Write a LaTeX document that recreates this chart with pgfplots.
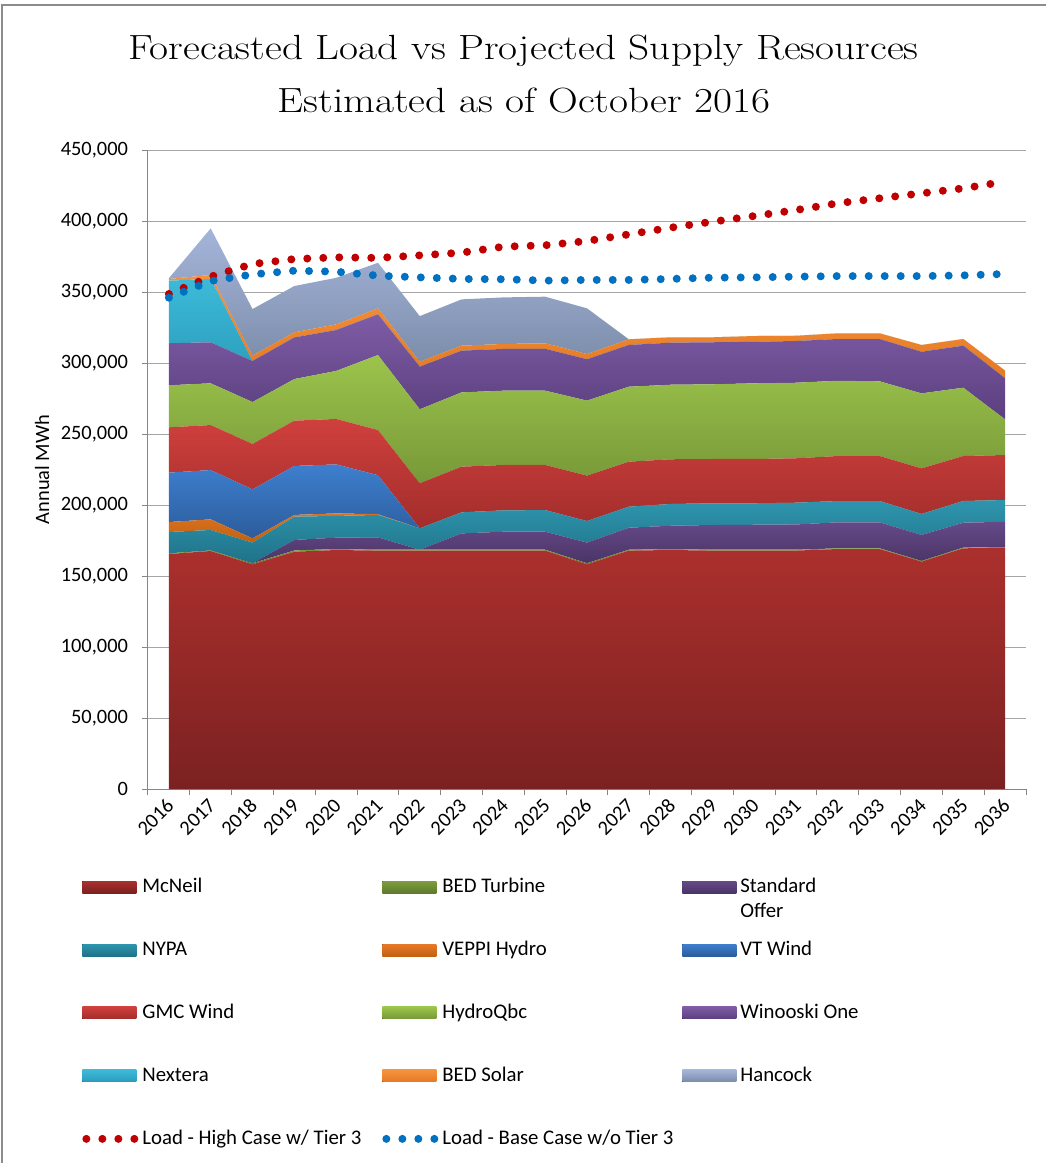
\documentclass[border=0pt]{standalone}
\usepackage{pgfplots}
\pgfplotsset{compat=1.18}
\usepackage{pgfplotstable}
\usepackage{graphicx}
\usepackage{fontspec}
\newfontfamily\carlito{Carlito}

\definecolor{mcTop}{HTML}{AB302D}\definecolor{mcBot}{HTML}{7B2121}
\definecolor{btTop}{HTML}{7E9E3E}\definecolor{btBot}{HTML}{5F7A2C}
\definecolor{soTop}{HTML}{654A88}\definecolor{soBot}{HTML}{4A3466}
\definecolor{nyTop}{HTML}{2E95AE}\definecolor{nyBot}{HTML}{1F7389}
\definecolor{veTop}{HTML}{E8792A}\definecolor{veBot}{HTML}{C0620F}
\definecolor{vtTop}{HTML}{3E7FCE}\definecolor{vtBot}{HTML}{2C5C9C}
\definecolor{gmTop}{HTML}{CF403D}\definecolor{gmBot}{HTML}{A22D2B}
\definecolor{hqTop}{HTML}{9CC44C}\definecolor{hqBot}{HTML}{779838}
\definecolor{wiTop}{HTML}{7F5CA6}\definecolor{wiBot}{HTML}{5A3F7E}
\definecolor{nxTop}{HTML}{3DBAD9}\definecolor{nxBot}{HTML}{2A9BBA}
\definecolor{bsTop}{HTML}{F6923E}\definecolor{bsBot}{HTML}{E47A22}
\definecolor{hcTop}{HTML}{A4B5DA}\definecolor{hcBot}{HTML}{7A8BA8}
\definecolor{lineRed}{HTML}{C00000}
\definecolor{lineBlue}{HTML}{0070C0}
\definecolor{axisgray}{HTML}{868686}
\definecolor{gridgray}{HTML}{A6A6A6}
\definecolor{framegray}{HTML}{8C8C8C}

\pgfplotstableread{
x M T S N V VT G H W Nx BS Hc High Base
0 165500 500 0 15000 7000 34800 31900 29600 29600 44100 1200 500 348600 346000
1 167600 400 0 14400 7500 34700 31700 29400 28900 44600 2800 32800 360800 357700
2 158200 800 0 14500 3000 34500 32000 29500 28900 0 3800 32800 369700 362400
3 167100 900 7400 16400 1200 34500 31900 29300 29300 0 3600 32600 373200 365000
4 168300 700 8000 15300 1800 34500 32000 33800 28800 0 4000 32800 374400 364300
5 167900 600 8700 15800 500 27500 31800 52800 28700 0 4200 32100 374000 361500
6 167900 600 0 15100 0 0 31700 52100 30000 0 3500 32100 375800 360300
7 167900 600 11500 14800 0 0 32200 52300 29400 0 3500 32600 377700 359200
8 167900 600 12700 15000 0 0 32000 52300 29400 0 3500 32800 381900 359000
9 167900 600 12700 15200 0 0 31800 52300 29500 0 3900 32800 382900 358000
10 158200 800 14500 15200 0 0 32000 52800 29100 0 3700 32200 385900 358500
11 167900 600 15500 14800 0 0 31700 52800 29400 0 4000 0 390600 358500
12 168300 700 16400 15300 0 0 31500 52500 29600 0 3800 0 395300 359200
13 167900 600 17400 15300 0 0 31200 52600 29600 0 3500 0 399500 360100
14 167900 600 17600 15100 0 0 31200 53300 29200 0 4100 0 403500 360300
15 167900 600 17800 15300 0 0 31300 53200 29400 0 3700 0 407700 360800
16 169000 500 18300 15000 0 0 31700 53000 29400 0 4000 0 412500 361200
17 169000 500 18300 15000 0 0 31700 52600 29800 0 4000 0 416000 361200
18 160100 500 18300 14800 0 0 32100 52800 29300 0 4800 0 419500 361200
19 169500 500 17500 15300 0 0 31700 48100 29600 0 4700 0 423000 361700
20 169900 500 17800 15300 0 0 31700 25100 28900 0 5400 0 427700 362700
}\datatable

\newcommand{\legbox}[1]{\makebox[110pt][l]{#1}}
\newcommand{\tfont}{\carlito\fontsize{10.2}{12}\selectfont}
\newcommand{\rl}[1]{\rotatebox{45}{#1}}

\pgfplotsset{
  areaplot/.style={draw=none,
    legend image code/.code={\fill[##1] (0pt,-3pt) rectangle (27pt,3pt);}},
  highLoad/.style={color=lineRed, line width=4pt, line cap=round, dash pattern=on 0pt off 8pt, mark=none},
  baseLoad/.style={color=lineBlue, line width=4pt, line cap=round, dash pattern=on 0pt off 8pt, mark=none},
  dotimg/.style={legend image code/.code={\draw[##1] (2pt,0pt) -- (26pt,0pt);}},
  common/.style={
    at={(74pt,187pt)}, anchor=south west, scale only axis,
    width=439pt, height=319.5pt,
    xmin=-0.5, xmax=20.5, ymin=0, ymax=450000,
  }
}

\begin{document}
\begin{tikzpicture}
\useasboundingbox (0,0) rectangle (523pt,581.5pt);
\draw[color=framegray, line width=1pt] (1pt,0pt) -- (1pt,578.75pt) -- (523pt,578.75pt);
\node[anchor=base, inner sep=0pt] at (261.75pt,551.5pt)
  {\fontsize{17.5}{21}\selectfont\scalebox{1.18}[1]{Forecasted Load vs Projected Supply Resources}};
\node[anchor=base, inner sep=0pt] at (262pt,525pt)
  {\fontsize{17.5}{21}\selectfont\scalebox{1.18}[1]{Estimated as of October 2016}};

\begin{axis}[common,
  stack plots=y,
  axis x line*=bottom, axis y line*=left,
  axis line style={-, draw=axisgray, line width=0.5pt},
  tick align=outside, major tick length=3pt,
  tick style={draw=axisgray, line width=0.5pt},
  ytick={0,50000,100000,150000,200000,250000,300000,350000,400000,450000},
  yticklabels={0,{50,000},{100,000},{150,000},{200,000},{250,000},{300,000},{350,000},{400,000},{450,000}},
  ymajorgrids, major grid style={draw=gridgray, line width=0.5pt},
  scaled y ticks=false,
  yticklabel style={font=\tfont, xshift=-3.5pt},
  xtick={-0.5,0.5,...,20.5}, xticklabels={},
  extra x ticks={0,1,...,20},
  extra x tick labels={\rl{2016},\rl{2017},\rl{2018},\rl{2019},\rl{2020},\rl{2021},\rl{2022},\rl{2023},\rl{2024},\rl{2025},\rl{2026},\rl{2027},\rl{2028},\rl{2029},\rl{2030},\rl{2031},\rl{2032},\rl{2033},\rl{2034},\rl{2035},\rl{2036}},
  extra x tick style={major tick length=0pt, grid=none},
  xticklabel style={font=\tfont, anchor=north east, inner sep=0pt, xshift=3.25pt, yshift=-4pt},
  ylabel={Annual MWh},
  every axis y label/.style={at={(axis description cs:-0.1207,0.5)}, rotate=90, anchor=center, font=\tfont},
  legend columns=3,
  legend cell align=left,
  legend style={at={(axis description cs:-0.0752,-0.133)}, anchor=north west,
    draw=none, fill=none, inner sep=0pt,
    font=\carlito\fontsize{10.4}{12.5}\selectfont,
    row sep=18.75pt, /tikz/every even column/.append style={column sep=8pt}},
]
\addplot[areaplot, top color=mcTop, bottom color=mcBot] table[x=x,y=M]{\datatable} \closedcycle;
\addlegendentry{\legbox{McNeil}}
\addplot[areaplot, top color=btTop, bottom color=btBot] table[x=x,y=T]{\datatable} \closedcycle;
\addlegendentry{\legbox{BED Turbine}}
\addplot[areaplot, top color=soTop, bottom color=soBot] table[x=x,y=S]{\datatable} \closedcycle;
\addlegendentry{\legbox{\makebox[0pt][l]{\raisebox{-12.5pt}[0pt][0pt]{Offer}}Standard}}
\addplot[areaplot, top color=nyTop, bottom color=nyBot] table[x=x,y=N]{\datatable} \closedcycle;
\addlegendentry{\legbox{NYPA}}
\addplot[areaplot, top color=veTop, bottom color=veBot] table[x=x,y=V]{\datatable} \closedcycle;
\addlegendentry{\legbox{VEPPI Hydro}}
\addplot[areaplot, top color=vtTop, bottom color=vtBot] table[x=x,y=VT]{\datatable} \closedcycle;
\addlegendentry{\legbox{VT Wind}}
\addplot[areaplot, top color=gmTop, bottom color=gmBot] table[x=x,y=G]{\datatable} \closedcycle;
\addlegendentry{\legbox{GMC Wind}}
\addplot[areaplot, top color=hqTop, bottom color=hqBot] table[x=x,y=H]{\datatable} \closedcycle;
\addlegendentry{\legbox{HydroQbc}}
\addplot[areaplot, top color=wiTop, bottom color=wiBot] table[x=x,y=W]{\datatable} \closedcycle;
\addlegendentry{\legbox{Winooski One}}
\addplot[areaplot, top color=nxTop, bottom color=nxBot] table[x=x,y=Nx]{\datatable} \closedcycle;
\addlegendentry{\legbox{Nextera}}
\addplot[areaplot, top color=bsTop, bottom color=bsBot] table[x=x,y=BS]{\datatable} \closedcycle;
\addlegendentry{\legbox{BED Solar}}
\addplot[areaplot, top color=hcTop, bottom color=hcBot] table[x=x,y=Hc]{\datatable} \closedcycle;
\addlegendentry{\legbox{Hancock}}
\addlegendimage{highLoad, dotimg}
\addlegendentry{\legbox{Load - High Case w/ Tier 3}}
\addlegendimage{baseLoad, dotimg}
\addlegendentry{\legbox{Load - Base Case w/o Tier 3}}
\end{axis}

\begin{axis}[common, hide axis, clip=false]
\addplot[highLoad] table[x=x,y=High]{\datatable};
\addplot[baseLoad] table[x=x,y=Base]{\datatable};
\end{axis}
\end{tikzpicture}
\end{document}
